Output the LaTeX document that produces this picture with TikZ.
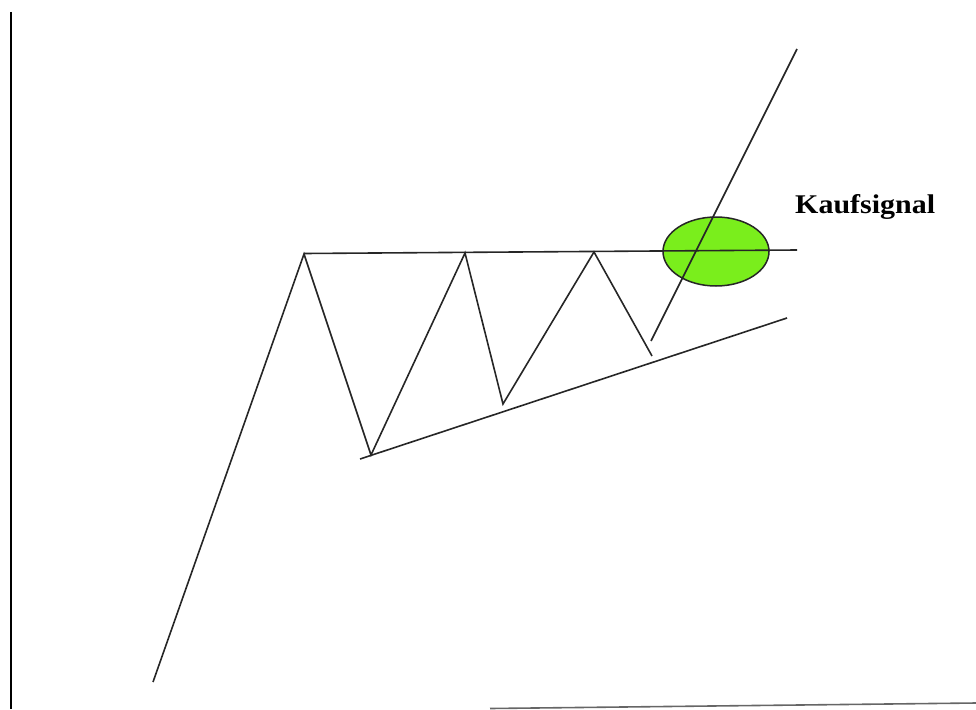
\documentclass[tikz,border=0pt]{standalone}
\usepackage{fontspec}
\setmainfont{Liberation Serif}
\usetikzlibrary{shapes.geometric}
\definecolor{signalgreen}{RGB}{122,238,28}
\begin{document}
\begin{tikzpicture}[x=1pt,y=-1pt,
  chartline/.style={line width=1.6pt,black!85},
  frameline/.style={line width=2pt,black},
  signal/.style={ellipse,draw=black!85,line width=1.5pt,fill=signalgreen,minimum width=106pt,minimum height=69pt,inner sep=0pt}]
\useasboundingbox (0,0) rectangle (976,709);
% frame lines
\coordinate (ftop) at (10.5,12);
\coordinate (fbot) at (10.5,709);
\coordinate (bl) at (490,708.5);
\coordinate (br) at (976,703);
\draw[frameline] (ftop) -- (fbot);
\draw[line width=1.6pt,black!60] (bl) -- (br);
% price points
\coordinate (s0) at (153,682);
\coordinate (p1) at (304,254);
\coordinate (t1) at (371,455);
\coordinate (p2) at (465,253);
\coordinate (t2) at (503,404);
\coordinate (p3) at (594,252);
\coordinate (t3) at (652,356);
\coordinate (b0) at (651,341);
\coordinate (b1) at (797,49);
% trend lines
\coordinate (rl) at (304,253.5);
\coordinate (rr) at (797,250);
\coordinate (sl) at (360,459);
\coordinate (sr) at (787,318);
% ellipse
\node[signal] (sig) at (716,251.5) {};
\draw[chartline] (s0) -- (p1) -- (t1) -- (p2) -- (t2) -- (p3) -- (t3);
\draw[chartline] (b0) -- (b1);
\draw[chartline] (rl) -- (rr);
\draw[chartline] (sl) -- (sr);
\node[anchor=base west,inner sep=0pt,font=\bfseries\fontsize{27}{27}\selectfont,xscale=1.11] (txt) at (795,213.5) {Kaufsignal};
\end{tikzpicture}
\end{document}
